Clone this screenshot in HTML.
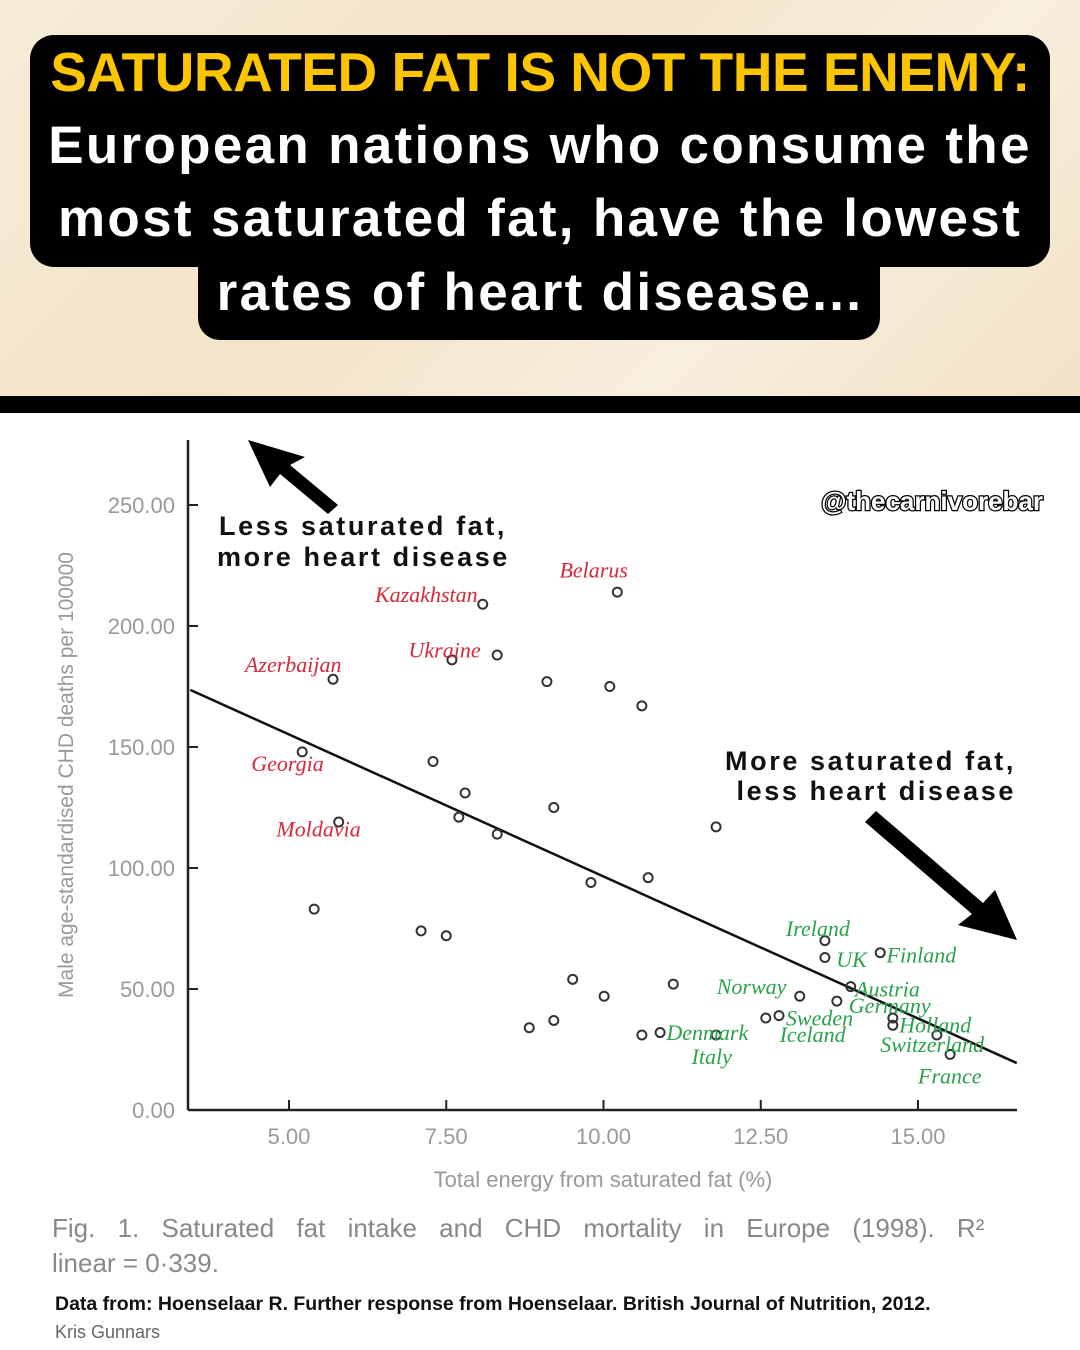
<!DOCTYPE html>
<html><head><meta charset="utf-8"><style>
body{margin:0;width:1080px;height:1350px;overflow:hidden;background:#fff;font-family:"Liberation Sans",sans-serif}
#hdr{position:absolute;left:0;top:0;width:1080px;height:396px;background:linear-gradient(135deg,#f7ecd9,#f3e3c8 40%,#f8eedd 70%,#f2e2c6)}
.box{position:absolute;background:#000}
.t{position:absolute;left:0;width:1080px;text-align:center;font-weight:bold;white-space:nowrap}
</style></head><body>
<div id="hdr">
 <div class="box" style="left:30px;top:35px;width:1020px;height:232px;border-radius:24px"></div>
 <div class="box" style="left:198px;top:250px;width:682px;height:90px;border-radius:0 0 22px 22px"></div>
 <div class="t" style="top:40px;font-size:55px;color:#fdc500;letter-spacing:-0.5px">SATURATED FAT IS NOT THE ENEMY:</div>
 <div class="t" style="top:115px;font-size:53px;color:#fff;letter-spacing:2.3px">European nations who consume the</div>
 <div class="t" style="top:188px;font-size:53px;color:#fff;letter-spacing:2.3px">most saturated fat, have the lowest</div>
 <div class="t" style="top:262px;font-size:53px;color:#fff;letter-spacing:2.3px">rates of heart disease...</div>
</div>
<div style="position:absolute;left:0;top:396px;width:1080px;height:17px;background:#000"></div>
<svg id="chart" width="1080" height="937" style="position:absolute;left:0;top:413px" viewBox="0 413 1080 937"></svg>
<script>
const xTicks=[5,7.5,10,12.5,15];
const yTicks=[0,50,100,150,200,250];
const xs=[8.08,10.22,5.70,7.59,8.31,9.10,10.10,10.61,5.21,7.29,7.80,7.70,8.31,9.21,5.79,9.80,10.71,11.79,5.40,7.10,7.50,9.51,10.01,11.11,8.82,9.21,10.61,10.90,13.52,13.52,14.40,13.12,13.71,13.93,12.58,12.79,11.79,14.60,14.60,15.30,15.51];
const ys=[209,214,178,186,188,177,175,167,148,144,131,121,114,125,119,94,96,117,83,74,72,54,47,52,34,37,31,32,70,63,65,47,45,51,38,39,31,38,35,31,23];
const lineX=[3.43,16.57];
const lineY=[173.6,19.4];
const redLabels=["Kazakhstan","Belarus","Ukraine","Azerbaijan","Georgia","Moldavia"];
const redPos=[[8.0,210,"end"],[9.3,220,"start"],[6.9,187,"start"],[4.3,181,"start"],[4.4,140,"start"],[4.8,113,"start"]];
const greenLabels=["Ireland","UK","Finland","Norway","Austria","Germany","Sweden","Holland","Denmark","Iceland","Italy","Switzerland","France"];
const greenPos=[[12.9,72,"start"],[13.7,59,"start"],[14.5,61,"start"],[11.8,48,"start"],[14.0,47,"start"],[13.9,40,"start"],[12.9,35,"start"],[14.7,32,"start"],[11.0,29,"start"],[12.8,28,"start"],[11.4,19,"start"],[14.4,24,"start"],[15.0,11,"start"]];
const X=v=>-25.5+62.9*v, Y=v=>1110-2.42*v;
const svg=document.getElementById('chart');const NS="http://www.w3.org/2000/svg";
function mk(t,a,txt){const e=document.createElementNS(NS,t);for(const k in a)e.setAttribute(k,a[k]);if(txt!=null)e.textContent=txt;svg.appendChild(e);return e;}
let e;
e=mk('line',{x1:188,y1:440,x2:188,y2:1110,stroke:'#222','stroke-width':2.5});


e=mk('line',{x1:188,y1:1110,x2:1017,y2:1110,stroke:'#222','stroke-width':2.5});


xTicks.forEach(v=>{mk('line',{x1:X(v),y1:1100,x2:X(v),y2:1110,stroke:'#222','stroke-width':2});
e=mk('text',{x:X(v),y:1144,'text-anchor':'middle','font-size':22,fill:'#999'},v.toFixed(2));

});
yTicks.forEach(v=>{mk('line',{x1:188,y1:Y(v),x2:198,y2:Y(v),stroke:'#222','stroke-width':2});
e=mk('text',{x:175,y:Y(v)+8,'text-anchor':'end','font-size':22,fill:'#999'},v.toFixed(2));

});
e=mk('text',{x:0,y:0,transform:'translate(73,775) rotate(-90)','text-anchor':'middle','font-size':21,fill:'#999'},'Male age-standardised CHD deaths per 100000');


e=mk('text',{x:603,y:1187,'text-anchor':'middle','font-size':22,fill:'#999'},'Total energy from saturated fat (%)');


e=mk('line',{x1:X(lineX[0]),y1:Y(lineY[0]),x2:X(lineX[1]),y2:Y(lineY[1]),stroke:'#111','stroke-width':2.5});


xs.forEach((v,i)=>{e=mk('circle',{cx:X(v),cy:Y(ys[i]),r:4.5,fill:'none',stroke:'#333','stroke-width':2});

});
redLabels.forEach((s,i)=>{const p=redPos[i];e=mk('text',{x:X(p[0]),y:Y(p[1]),'text-anchor':p[2],'font-size':22,'font-style':'italic','font-family':'Liberation Serif,serif',fill:'#d42a3a'},s);

});
greenLabels.forEach((s,i)=>{const p=greenPos[i];e=mk('text',{x:X(p[0]),y:Y(p[1]),'text-anchor':p[2],'font-size':22,'font-style':'italic','font-family':'Liberation Serif,serif',fill:'#2aa24a'},s);

});
function ann(txt,x,y,a){e=mk('text',{x:x,y:y,'text-anchor':a,'font-size':27,'font-weight':'bold',fill:'#111','letter-spacing':2.6},txt);

}
ann('Less saturated fat,',219,535,'start');ann('more heart disease',217,566,'start');
ann('More saturated fat,',1016,770,'end');ann('less heart disease',1016,800,'end');
e=mk('polygon',{points:'248,440 305,457 290,465 338,505 328,514 280,474 270,487',fill:'#000'});


e=mk('polygon',{points:'1017,940 958,925 972,914 865,822 876,811 983,903 995,890',fill:'#000'});


e=mk('text',{x:1043,y:510,'text-anchor':'end','font-size':26,'font-weight':'bold',fill:'#fff',stroke:'#000','stroke-width':2.5,'paint-order':'stroke'},'@thecarnivorebar');


e=mk('text',{x:52,y:1237,'font-size':26,fill:'#888','word-spacing':15},'Fig. 1. Saturated fat intake and CHD mortality in Europe (1998). R²');


e=mk('text',{x:52,y:1272,'font-size':26,fill:'#888'},'linear = 0·339.');


e=mk('text',{x:55,y:1310,'font-size':19.5,'font-weight':'bold',fill:'#111'},'Data from: Hoenselaar R. Further response from Hoenselaar. British Journal of Nutrition, 2012.');


e=mk('text',{x:55,y:1338,'font-size':18,fill:'#666'},'Kris Gunnars');


</script>
</body></html>
